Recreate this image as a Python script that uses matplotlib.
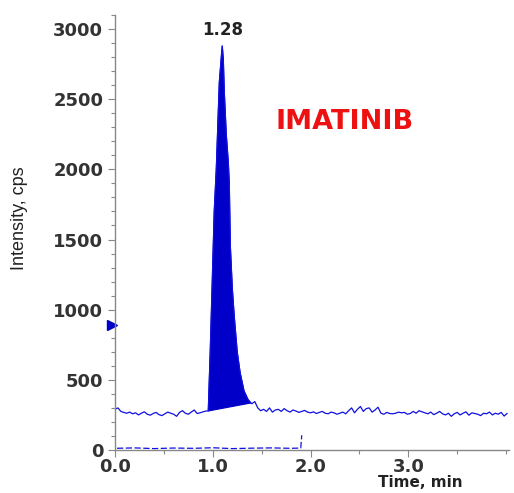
import matplotlib.pyplot as plt
import numpy as np
from matplotlib.ticker import MultipleLocator

# Baseline before the peak (t = 0.00 .. 0.93, step 0.03)
pre_vals = [290, 300, 275, 268, 262, 270, 258, 265, 250, 262, 272, 255, 248, 260, 268, 252,
            245, 258, 270, 262, 255, 240, 268, 280, 262, 255, 270, 285, 260, 265, 272, 278]

# Peak of imatinib
peak_t = [0.954, 0.974, 0.995, 1.015, 1.036, 1.051, 1.067, 1.087, 1.097, 1.108, 1.118, 1.138,
          1.159, 1.169, 1.180, 1.200, 1.220, 1.250, 1.280, 1.320, 1.360, 1.390]
peak_i = [278, 700, 1200, 1700, 2000, 2300, 2620, 2800, 2880, 2780, 2550, 2250,
          2050, 1900, 1450, 1150, 950, 700, 550, 420, 360, 335]

# Baseline after the peak (t = 1.40 .. 4.01, step 0.03)
post_vals = [330, 345, 300, 280, 290, 275, 300, 270, 285, 290, 275, 295, 280, 270, 285, 278,
             268, 275, 282, 270, 265, 272, 260, 268, 275, 262, 258, 270, 265, 255, 262, 270,
             258, 280, 300, 265, 290, 310, 275, 295, 300, 270, 285, 305, 262, 255, 268, 260,
             258, 262, 270, 265, 268, 255, 260, 275, 262, 280, 272, 265, 258, 270, 252, 262,
             275, 258, 250, 262, 240, 258, 268, 250, 262, 272, 248, 265, 260, 255, 245, 262,
             258, 270, 250, 262, 255, 268, 242, 260]

# Second (low) trace
low_t = [0.0, 0.0, 0.2, 0.4, 0.6, 0.8, 1.0, 1.2, 1.4, 1.6, 1.8, 1.90, 1.91]
low_i = [60, 12, 15, 10, 14, 12, 16, 10, 13, 15, 12, 14, 105]

pre_t = np.arange(len(pre_vals)) * 0.03
post_t = 1.40 + np.arange(len(post_vals)) * 0.03

t = np.concatenate([[0.0], pre_t, peak_t, post_t])
y = np.concatenate([[0], pre_vals, peak_i, post_vals])

blue = '#1010e0'
fig = plt.figure(figsize=(5.14, 4.93), dpi=100)
ax = fig.add_axes([115/514, 43/493, 394/514, 435/493])

ax.plot(t, y, color=blue, lw=0.9)
ax.fill(peak_t, peak_i, color='#0000c8', lw=0.8, ec='#0000c8')
ax.plot(low_t, low_i, color=blue, lw=0.9, ls=(0, (5, 2)))

ax.plot([-0.03], [890], marker='>', color='#0000c8', ms=7.5, clip_on=False)

ax.set_xlim(0, 4.03)
ax.set_ylim(0, 3100)
ax.xaxis.set_major_locator(MultipleLocator(1.0))
ax.xaxis.set_minor_locator(MultipleLocator(0.5))
ax.yaxis.set_major_locator(MultipleLocator(500))
ax.yaxis.set_minor_locator(MultipleLocator(100))
ax.set_xticks([0, 1, 2, 3])
ax.set_xticklabels(['0.0', '1.0', '2.0', '3.0'])

for s in ['top', 'right']:
    ax.spines[s].set_visible(False)
for s in ['left', 'bottom']:
    ax.spines[s].set_color('#888888')
    ax.spines[s].set_linewidth(1.0)

ax.tick_params(which='both', direction='out', color='#888888', width=0.8)
ax.tick_params(which='major', length=5)
ax.tick_params(which='minor', length=3)
ax.tick_params(axis='x', pad=0.5)
for lab in ax.get_xticklabels() + ax.get_yticklabels():
    lab.set_fontfamily('DejaVu Sans')
    lab.set_fontweight('bold')
    lab.set_fontsize(13)
    lab.set_color('#333333')

ax.text(1.097, 2995, '1.28', ha='center', va='center', fontsize=12, fontweight='bold',
        color='#222222', family='DejaVu Sans')
ax.text(1.64, 2338, 'IMATINIB', ha='left', va='center', fontsize=19.5, fontweight='bold',
        color='#ee1111', family='DejaVu Sans')

fig.text(20/514, 1 - 218/493, 'Intensity, cps', rotation=90, ha='center', va='center',
         fontsize=13, family='Liberation Sans', color='#222222')
fig.text(420/514, 1 - 475/493, 'Time, min', ha='center', va='top', fontsize=11,
         fontweight='bold', family='DejaVu Sans', color='#222222')

fig.savefig('out.png', dpi=100)
